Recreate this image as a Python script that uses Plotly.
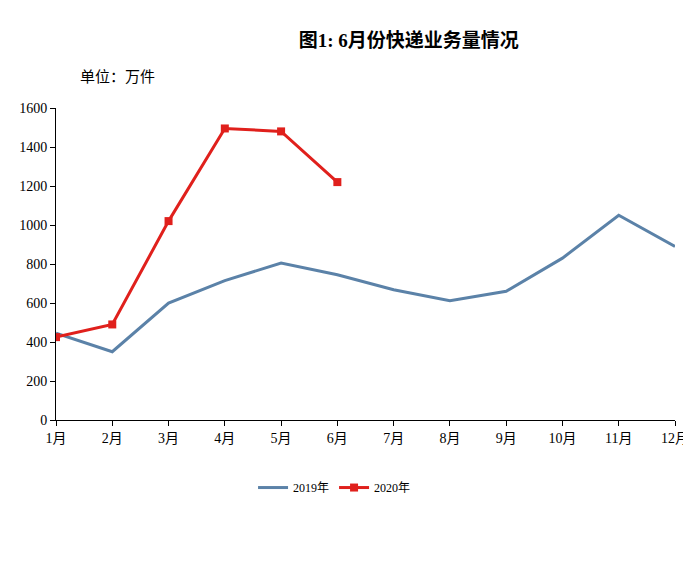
import plotly.graph_objects as go

months = ["1月", "2月", "3月", "4月", "5月", "6月", "7月", "8月", "9月", "10月", "11月", "12月"]
vol_2019 = [445, 350, 600, 715, 805, 745, 668, 612, 660, 830, 1050, 890]
months_2020 = months[:6]
vol_2020 = [425, 490, 1020, 1495, 1480, 1220]

font = "Liberation Serif, Noto Sans CJK SC"

fig = go.Figure()
fig.add_trace(go.Scatter(
    x=months, y=vol_2019, name="2019年", mode="lines",
    line=dict(color="#5B82A8", width=3),
))
fig.add_trace(go.Scatter(
    x=months_2020, y=vol_2020, name="2020年", mode="lines+markers",
    line=dict(color="#E0201C", width=3),
    marker=dict(symbol="square", size=8, color="#E0201C"),
))

fig.update_layout(
    width=691, height=561,
    margin=dict(l=48, r=10, t=100, b=149),
    plot_bgcolor="white", paper_bgcolor="white",
    font=dict(family=font, size=14, color="black"),
    title=dict(text="<b>图1: 6月份快递业务量情况</b>", x=0.58, y=0.955,
               xanchor="center", font=dict(size=19)),
    showlegend=True,
    legend=dict(orientation="h", x=0.45, y=-0.17, xanchor="center",
                yanchor="top", font=dict(size=12)),
    annotations=[dict(text="单位：万件", xref="paper", yref="paper",
                      x=0.035, y=1.13, showarrow=False, xanchor="left",
                      font=dict(size=15))],
)
fig.update_xaxes(
    range=[0, 11], showline=True, linecolor="black", ticks="outside",
    tickcolor="black", showgrid=False, tickangle=0,
)
fig.update_yaxes(
    range=[0, 1600], dtick=200, showline=True, linecolor="black",
    ticks="outside", tickcolor="black", showgrid=False,
)

fig.write_html("out.html")
